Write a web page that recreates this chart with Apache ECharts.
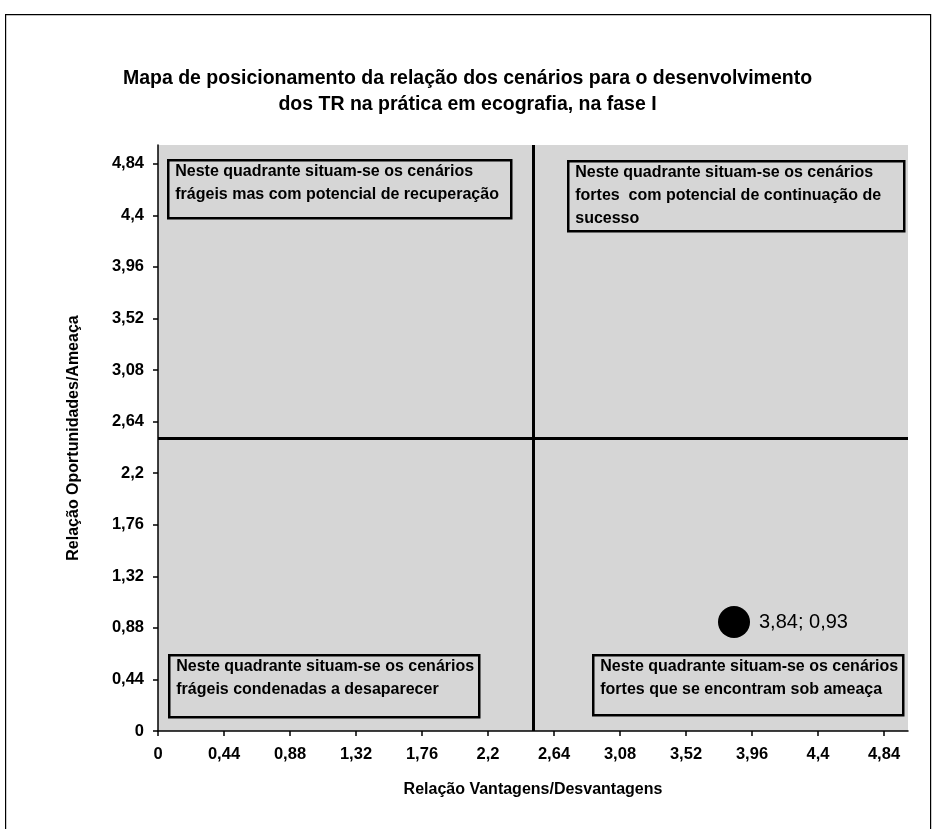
<!DOCTYPE html>
<html>
<head>
<meta charset="utf-8">
<script src="https://cdn.jsdelivr.net/npm/echarts@6/dist/echarts.min.js"></script>
<style>
  html, body { margin: 0; padding: 0; background: #fff; }
  #chart { width: 935px; height: 829px; }
</style>
</head>
<body>
<div id="chart"></div>
<script>
// valores
const axisTicks = [0, 0.44, 0.88, 1.32, 1.76, 2.2, 2.64, 3.08, 3.52, 3.96, 4.4, 4.84]
const axisMin = 0
const axisMax = 5
const scenarioX = [3.84]
const scenarioY = [0.93]
const quadrantX = 2.5
const quadrantY = 2.5

const quadrantTexts = [
  'Neste quadrante situam-se os cenários\nfrágeis mas com potencial de recuperação',
  'Neste quadrante situam-se os cenários\nfortes  com potencial de continuação de\nsucesso',
  'Neste quadrante situam-se os cenários\nfrágeis condenadas a desaparecer',
  'Neste quadrante situam-se os cenários\nfortes que se encontram sob ameaça'
]

const FONT = "'Liberation Sans', Arial, sans-serif"
const fmt = (v) => String(+Number(v).toFixed(2)).replace('.', ',')

const chart = echarts.init(document.getElementById('chart'))

// caixa de texto de um quadrante
const makeBox = (x, y, w, h, text) => ({
  type: 'group',
  left: x,
  top: y,
  children: [
    {
      type: 'rect',
      shape: { x: 0, y: 0, width: w, height: h },
      style: { fill: 'transparent', stroke: '#000', lineWidth: 2.5 }
    },
    {
      type: 'text',
      x: 7,
      y: 0,
      style: {
        text: text,
        font: 'bold 16px ' + FONT,
        fill: '#000',
        lineHeight: 23,
        verticalAlign: 'top'
      }
    }
  ]
})

const axisCommon = {
  type: 'value',
  min: axisMin,
  max: axisMax,
  nameLocation: 'middle',
  nameTextStyle: { fontFamily: FONT, fontSize: 16, fontWeight: 'bold', color: '#000' },
  axisLine: { show: true, lineStyle: { color: '#000', width: 1.5 } },
  axisTick: { show: true, customValues: axisTicks, length: 5, lineStyle: { color: '#000', width: 1.5 } },
  axisLabel: {
    customValues: axisTicks,
    formatter: fmt,
    fontFamily: FONT,
    fontSize: 16.5,
    fontWeight: 'bold',
    color: '#000'
  },
  splitLine: { show: false }
}

const option = {
  animation: false,
  backgroundColor: '#fff',
  title: {
    text: 'Mapa de posicionamento da relação dos cenários para o desenvolvimento\ndos TR na prática em ecografia, na fase I',
    left: 'center',
    top: 61,
    textStyle: { fontFamily: FONT, fontSize: 19.5, fontWeight: 'bold', color: '#000', lineHeight: 26 }
  },
  grid: {
    left: 158,
    right: 27,
    top: 145,
    bottom: 98,
    show: true,
    backgroundColor: '#d6d6d6',
    borderWidth: 0
  },
  xAxis: {
    ...axisCommon,
    name: 'Relação Vantagens/Desvantagens',
    nameGap: 51,
    axisLabel: { ...axisCommon.axisLabel, margin: 15 }
  },
  yAxis: {
    ...axisCommon,
    name: 'Relação Oportunidades/Ameaça',
    nameGap: 76,
    axisLabel: { ...axisCommon.axisLabel, margin: 14 }
  },
  series: [
    {
      type: 'scatter',
      data: scenarioX.map((x, i) => [x, scenarioY[i]]),
      symbolSize: 32,
      itemStyle: { color: '#000', opacity: 1 },
      label: {
        show: true,
        position: 'right',
        distance: 9,
        formatter: (p) => fmt(p.value[0]) + '; ' + fmt(p.value[1]),
        fontFamily: FONT,
        fontSize: 20,
        color: '#000'
      },
      markLine: {
        silent: true,
        symbol: 'none',
        label: { show: false },
        lineStyle: { color: '#000', width: 3, type: 'solid', opacity: 1 },
        data: [{ xAxis: quadrantX }, { yAxis: quadrantY }]
      }
    }
  ],
  graphic: [
    {
      type: 'rect',
      left: 5,
      top: 14,
      shape: { width: 925, height: 830 },
      style: { fill: 'transparent', stroke: '#000', lineWidth: 1.2 }
    },
    makeBox(167, 159, 343, 58, quadrantTexts[0]),
    makeBox(567, 160, 336, 70, quadrantTexts[1]),
    makeBox(168, 654, 310, 62, quadrantTexts[2]),
    makeBox(592, 654, 310, 60, quadrantTexts[3])
  ]
}

chart.setOption(option)
</script>
</body>
</html>
